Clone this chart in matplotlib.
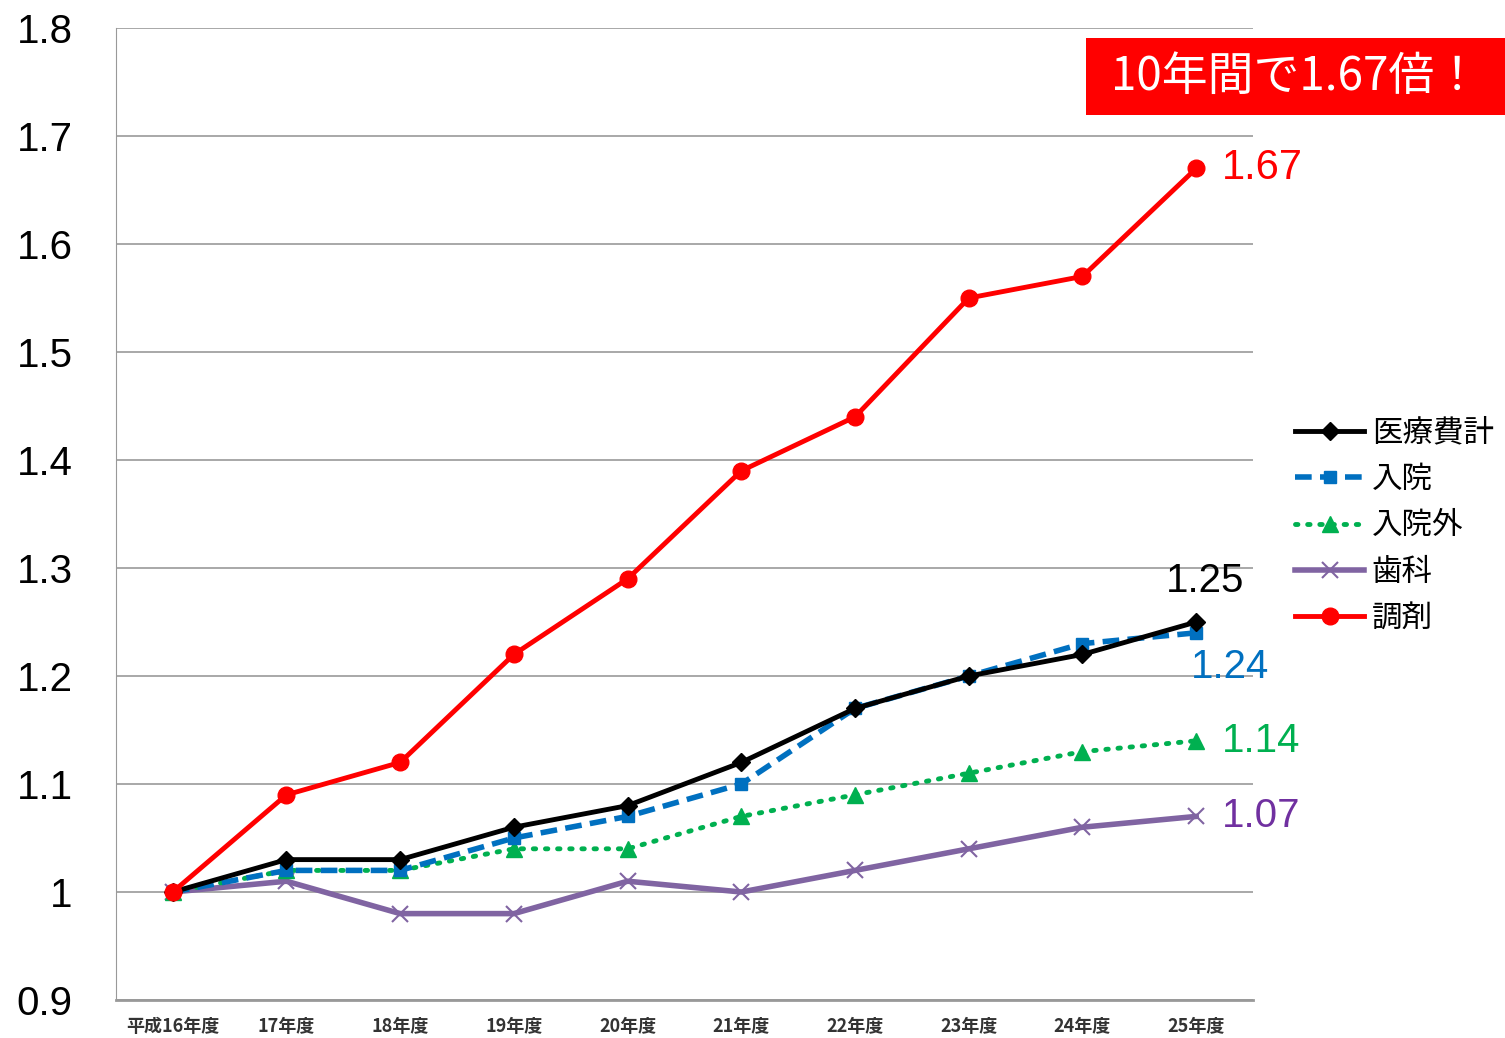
import matplotlib.pyplot as plt
import matplotlib.patches as mpatches
import numpy as np

plt.rcParams['font.family'] = ['Noto Sans CJK JP', 'DejaVu Sans']

# データ(平成16年度=1)
years = ['平成16年度', '17年度', '18年度', '19年度', '20年度',
         '21年度', '22年度', '23年度', '24年度', '25年度']
total = [1.00, 1.03, 1.03, 1.06, 1.08, 1.12, 1.17, 1.20, 1.22, 1.25]      # 医療費計
inpatient = [1.00, 1.02, 1.02, 1.05, 1.07, 1.10, 1.17, 1.20, 1.23, 1.24]  # 入院
outpatient = [1.00, 1.02, 1.02, 1.04, 1.04, 1.07, 1.09, 1.11, 1.13, 1.14] # 入院外
dental = [1.00, 1.01, 0.98, 0.98, 1.01, 1.00, 1.02, 1.04, 1.06, 1.07]     # 歯科
pharmacy = [1.00, 1.09, 1.12, 1.22, 1.29, 1.39, 1.44, 1.55, 1.57, 1.67]   # 調剤

x = np.arange(len(years))
num_font = ['Liberation Sans', 'DejaVu Sans']

fig = plt.figure(figsize=(15.05, 10.38), dpi=100)
ax = fig.add_axes([0.077, 0.0366, 0.7556, 0.9364])

ax.plot(x, total, color='black', lw=3.5, marker='D', ms=9, label='医療費計', zorder=5)
ax.plot(x, inpatient, color='#0070C0', lw=4, ls=(0, (3, 1.5)), marker='s', ms=9, label='入院', zorder=4)
ax.plot(x, outpatient, color='#00B050', lw=3.5, ls=(0, (0.5, 2)), dash_capstyle='round',
        marker='^', ms=11, label='入院外', zorder=3)
ax.plot(x, dental, color='#8064A2', lw=4, marker='x', ms=12, mew=1.5, label='歯科', zorder=2)
ax.plot(x, pharmacy, color='#FF0000', lw=3.5, marker='o', ms=12, label='調剤', zorder=6)

ax.set_xlim(-0.5, 9.5)
ax.set_ylim(0.9, 1.8)
ax.set_yticks(np.arange(0.9, 1.81, 0.1))
ax.set_yticklabels(['0.9', '1', '1.1', '1.2', '1.3', '1.4', '1.5', '1.6', '1.7', '1.8'], family=num_font)
ax.set_xticks(x)
ax.set_xticklabels(years, fontsize=13, fontweight='bold', color='#333333')
ax.tick_params(axis='y', length=0, pad=31, labelsize=29)
ax.tick_params(axis='x', length=0, pad=12)
ax.grid(axis='y', color='#999999', lw=1.2)
for s in ['top', 'right']:
    ax.spines[s].set_visible(False)
ax.spines['left'].set_color('#999999')
ax.spines['bottom'].set_color('#999999')
ax.spines['bottom'].set_linewidth(2)

# 末尾の値ラベル
ax.text(x[-1] + 0.23, pharmacy[-1], '1.67', color='#FF0000', fontsize=30, va='center', family=num_font)
ax.text(x[-1] + 0.08, total[-1] + 0.02, '1.25', color='black', fontsize=29, ha='center', va='bottom',
        family=num_font)
ax.text(x[-1] - 0.05, inpatient[-1] - 0.032, '1.24', color='#0070C0', fontsize=29, va='center',
        family=num_font)
ax.text(x[-1] + 0.23, outpatient[-1], '1.14', color='#00B050', fontsize=29, va='center', family=num_font)
ax.text(x[-1] + 0.23, dental[-1], '1.07', color='#7030A0', fontsize=29, va='center', family=num_font)

leg = fig.legend(loc='upper left', bbox_to_anchor=(0.8423, 0.624), frameon=False,
                 fontsize=22, handlelength=2.25, labelspacing=0.5, handletextpad=0.26)

fig.patches.append(mpatches.Rectangle((0.7216, 0.8892), 0.2784, 0.0742, transform=fig.transFigure,
                                      fc='#FF0000', ec='none'))
fig.text(0.8608, 0.9263, '10年間で1.67倍！', color='white', fontsize=33, ha='center', va='center')

fig.savefig('out.png', dpi=100)
